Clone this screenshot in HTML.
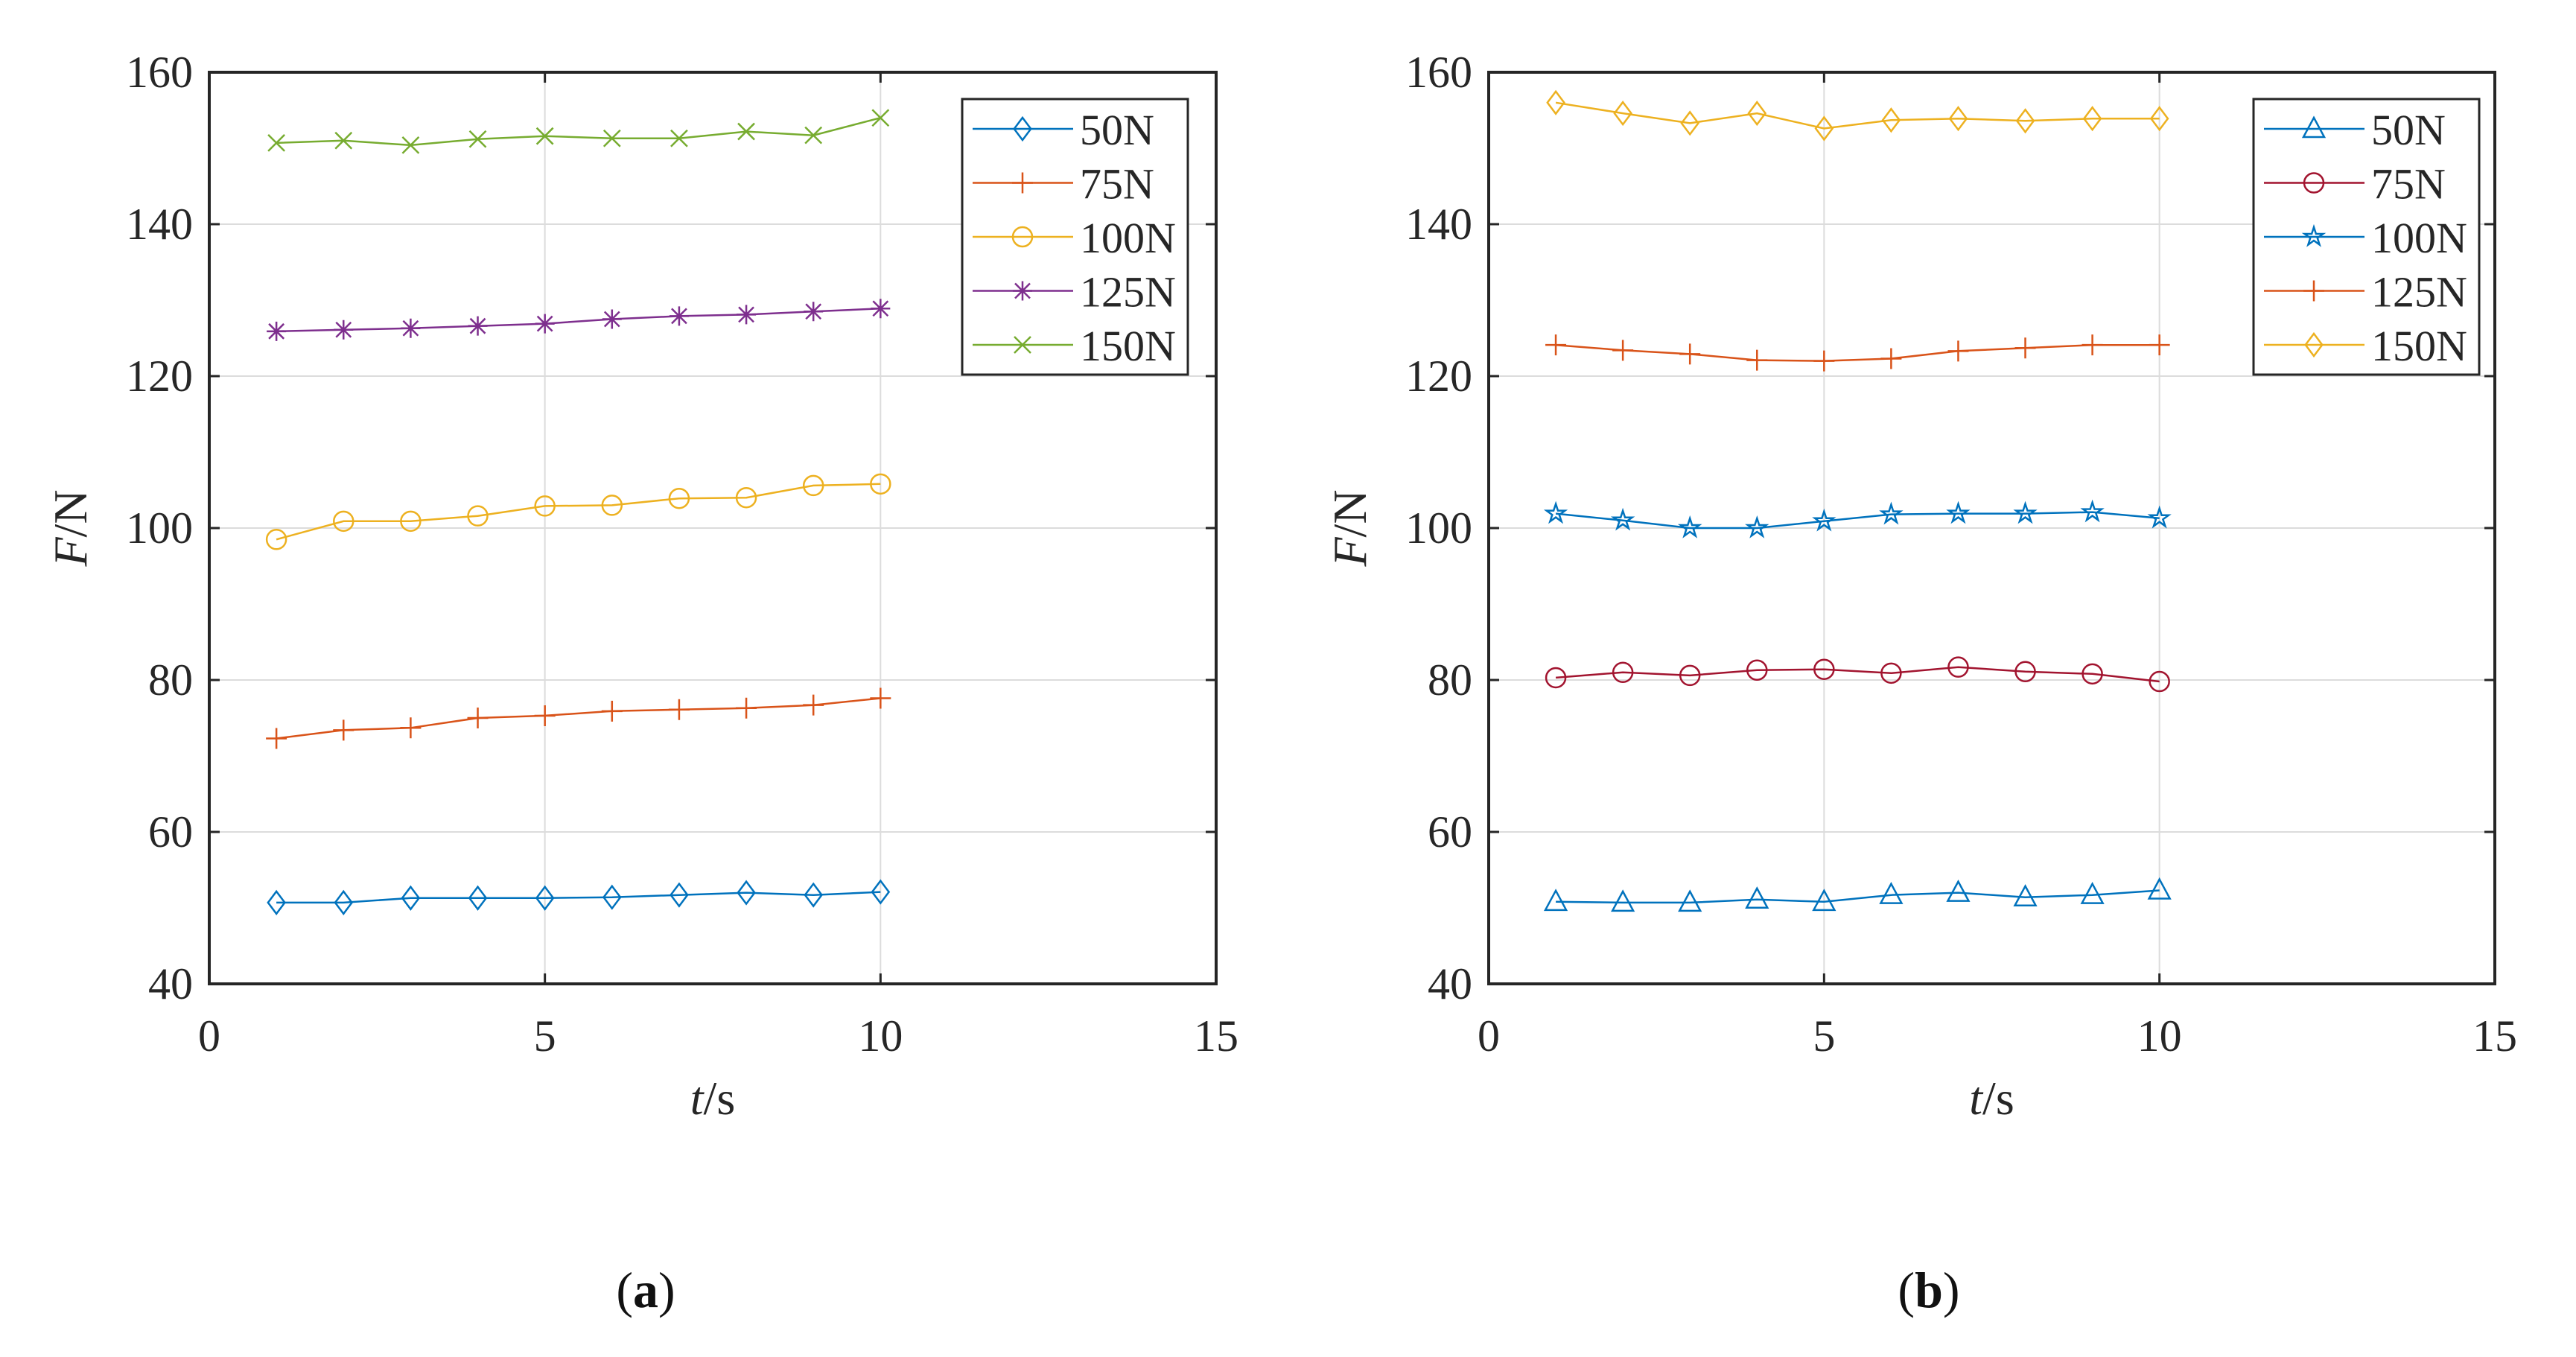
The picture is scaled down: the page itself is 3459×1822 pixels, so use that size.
<!DOCTYPE html>
<html><head><meta charset="utf-8">
<style>
html,body{margin:0;padding:0;background:#fff;}
svg{display:block;font-family:"Liberation Serif",serif;}
svg text{font-family:"Liberation Serif",serif;}
</style></head>
<body>
<svg id="fig" width="3459" height="1822" viewBox="0 0 3459 1822" xmlns="http://www.w3.org/2000/svg"></svg>
<script>
const times = [1,2,3,4,5,6,7,8,9,10];
const seriesNames = ["50N","75N","100N","125N","150N"];
const xTicks = [0,5,10,15];
const yTicks = [40,60,80,100,120,140,160];

const a50  = [50.7,50.7,51.3,51.3,51.3,51.4,51.7,52.0,51.7,52.1];
const a75  = [72.3,73.4,73.7,75.0,75.3,75.9,76.1,76.3,76.7,77.6];
const a100 = [98.5,100.9,100.9,101.6,102.9,103.0,103.9,104.0,105.6,105.8];
const a125 = [125.9,126.1,126.3,126.6,126.9,127.5,127.9,128.1,128.5,128.9];
const a150 = [150.7,151.0,150.4,151.2,151.6,151.3,151.3,152.2,151.7,154.0];

const b50  = [50.8,50.7,50.7,51.1,50.8,51.7,52.0,51.4,51.7,52.3];
const b75  = [80.3,81.0,80.6,81.3,81.4,80.9,81.7,81.1,80.8,79.8];
const b100 = [101.9,101.0,100.0,100.0,100.9,101.8,101.9,101.9,102.1,101.3];
const b125 = [124.1,123.4,122.9,122.1,122.0,122.3,123.3,123.7,124.1,124.1];
const b150 = [156.0,154.6,153.3,154.6,152.6,153.7,153.9,153.6,153.9,153.9];

const NS="http://www.w3.org/2000/svg";
const svg=document.getElementById('fig');
const FF='"Liberation Serif", serif';
function mk(tag,attrs,parent){const e=document.createElementNS(NS,tag);for(const k in attrs)e.setAttribute(k,attrs[k]);if(tag==='text')e.setAttribute('font-family',FF);(parent||svg).appendChild(e);return e;}

function marker(g,type,cx,cy,color){
  let e;
  const s=15;
  if(type==='diamond'){e=mk('polygon',{points:`${cx},${cy-s} ${cx+s*0.75},${cy} ${cx},${cy+s} ${cx-s*0.75},${cy}`,fill:'none',stroke:color,'stroke-width':2.5},g);}
  else if(type==='circle'){e=mk('circle',{cx,cy,r:13,fill:'none',stroke:color,'stroke-width':2.5},g);}
  else if(type==='triangle'){e=mk('polygon',{points:`${cx},${cy-15} ${cx+14},${cy+11} ${cx-14},${cy+11}`,fill:'none',stroke:color,'stroke-width':2.5},g);}
  else if(type==='plus'){e=mk('path',{d:`M${cx-14},${cy}H${cx+14}M${cx},${cy-14}V${cy+14}`,stroke:color,'stroke-width':2.5},g);}
  else if(type==='x'){e=mk('path',{d:`M${cx-11},${cy-11}L${cx+11},${cy+11}M${cx-11},${cy+11}L${cx+11},${cy-11}`,stroke:color,'stroke-width':2.5},g);}
  else if(type==='star'){e=mk('path',{d:`M${cx-13},${cy}H${cx+13}M${cx},${cy-13}V${cy+13}M${cx-10},${cy-10}L${cx+10},${cy+10}M${cx-10},${cy+10}L${cx+10},${cy-10}`,stroke:color,'stroke-width':2.5},g);}
  else if(type==='pentagram'){
    let p=[];for(let i=0;i<10;i++){const r=i%2?5:13;const a=-Math.PI/2+i*Math.PI/5;p.push((cx+r*Math.cos(a)).toFixed(1)+','+(cy+r*Math.sin(a)).toFixed(1));}
    e=mk('polygon',{points:p.join(' '),fill:'none',stroke:color,'stroke-width':2.5},g);}
  
  
}

function panel(id,L,R,T,B,data,markers,colors,legend,caption,capX){
  const g=mk('g',{});
  
  
  const xs=v=>L+(v-0)/(15-0)*(R-L);
  const ys=v=>B-(v-40)/(160-40)*(B-T);
  xTicks.forEach(t=>{if(t>0&&t<15){const l=mk('line',{x1:xs(t),x2:xs(t),y1:T,y2:B,stroke:'#dcdcdc','stroke-width':2},g);
    
    }});
  yTicks.forEach(t=>{if(t>40&&t<160){const l=mk('line',{x1:L,x2:R,y1:ys(t),y2:ys(t),stroke:'#dcdcdc','stroke-width':2},g);
    
    }});
  data.forEach((vals,si)=>{
    const sg=mk('g',{},g);
    
    
    const pts=times.map((t,i)=>xs(t).toFixed(1)+','+ys(vals[i]).toFixed(1)).join(' ');
    const pl=mk('polyline',{points:pts,fill:'none',stroke:colors[si],'stroke-width':2.5},sg);
    
    
    times.forEach((t,i)=>marker(sg,markers[si],xs(t),ys(vals[i]),colors[si]));
  });
  const box=mk('rect',{x:L,y:T,width:R-L,height:B-T,fill:'none',stroke:'#262626','stroke-width':4},g);
  
  
  xTicks.forEach(t=>{
    const x=xs(t);
    mk('path',{d:`M${x},${B}V${B-14}M${x},${T}V${T+14}`,stroke:'#262626','stroke-width':3},g);
    const tx=mk('text',{x:x,y:B+90,'font-size':60,'text-anchor':'middle',fill:'#262626'},g);
    tx.textContent=t;
    
    
  });
  yTicks.forEach(t=>{
    const y=ys(t);
    mk('path',{d:`M${L},${y}H${L+14}M${R},${y}H${R-14}`,stroke:'#262626','stroke-width':3},g);
    const tx=mk('text',{x:L-22,y:y+20,'font-size':60,'text-anchor':'end',fill:'#262626'},g);
    tx.textContent=t;
    
    
  });
  const xt=mk('text',{x:(L+R)/2,y:B+175,'font-size':64,'text-anchor':'middle',fill:'#262626'},g);
  xt.innerHTML='<tspan font-style="italic">t</tspan>/s';
  
  
  const yt=mk('text',{x:0,y:0,'font-size':64,'text-anchor':'middle',fill:'#262626',transform:`translate(${L-165},${(T+B)/2}) rotate(-90)`},g);
  yt.innerHTML='<tspan font-style="italic">F</tspan>/N';
  
  
  const lg=mk('g',{},g);
  
  
  mk('rect',{x:legend.x,y:133,width:303,height:370,fill:'#fff',stroke:'#262626','stroke-width':3},lg);
  seriesNames.forEach((n,i)=>{
    const ey=173+i*72.5;
    const le=mk('g',{},lg);
    
    
    mk('line',{x1:legend.x+14,x2:legend.x+149,y1:ey,y2:ey,stroke:colors[i],'stroke-width':2.5},le);
    marker(le,markers[i],legend.x+81,ey,colors[i]);
    const tx=mk('text',{x:legend.x+158,y:ey+21,'font-size':58,fill:'#262626'},le);
    tx.textContent=n;
  });
  const cp=mk('text',{x:capX,y:1755,'font-size':68,'text-anchor':'middle',fill:'#111'},g);
  cp.innerHTML='(<tspan font-weight="bold">'+caption+'</tspan>)';
  
  
}

panel('a',281,1633,97,1321,[a50,a75,a100,a125,a150],
  ['diamond','plus','circle','star','x'],
  ['#0072BD','#D95319','#EDB120','#7E2F8E','#77AC30'],{x:1292},'a',867);
panel('b',1999,3350,97,1321,[b50,b75,b100,b125,b150],
  ['triangle','circle','pentagram','plus','diamond'],
  ['#0072BD','#A2142F','#0072BD','#D95319','#EDB120'],{x:3026},'b',2590);
</script>
</body></html>
